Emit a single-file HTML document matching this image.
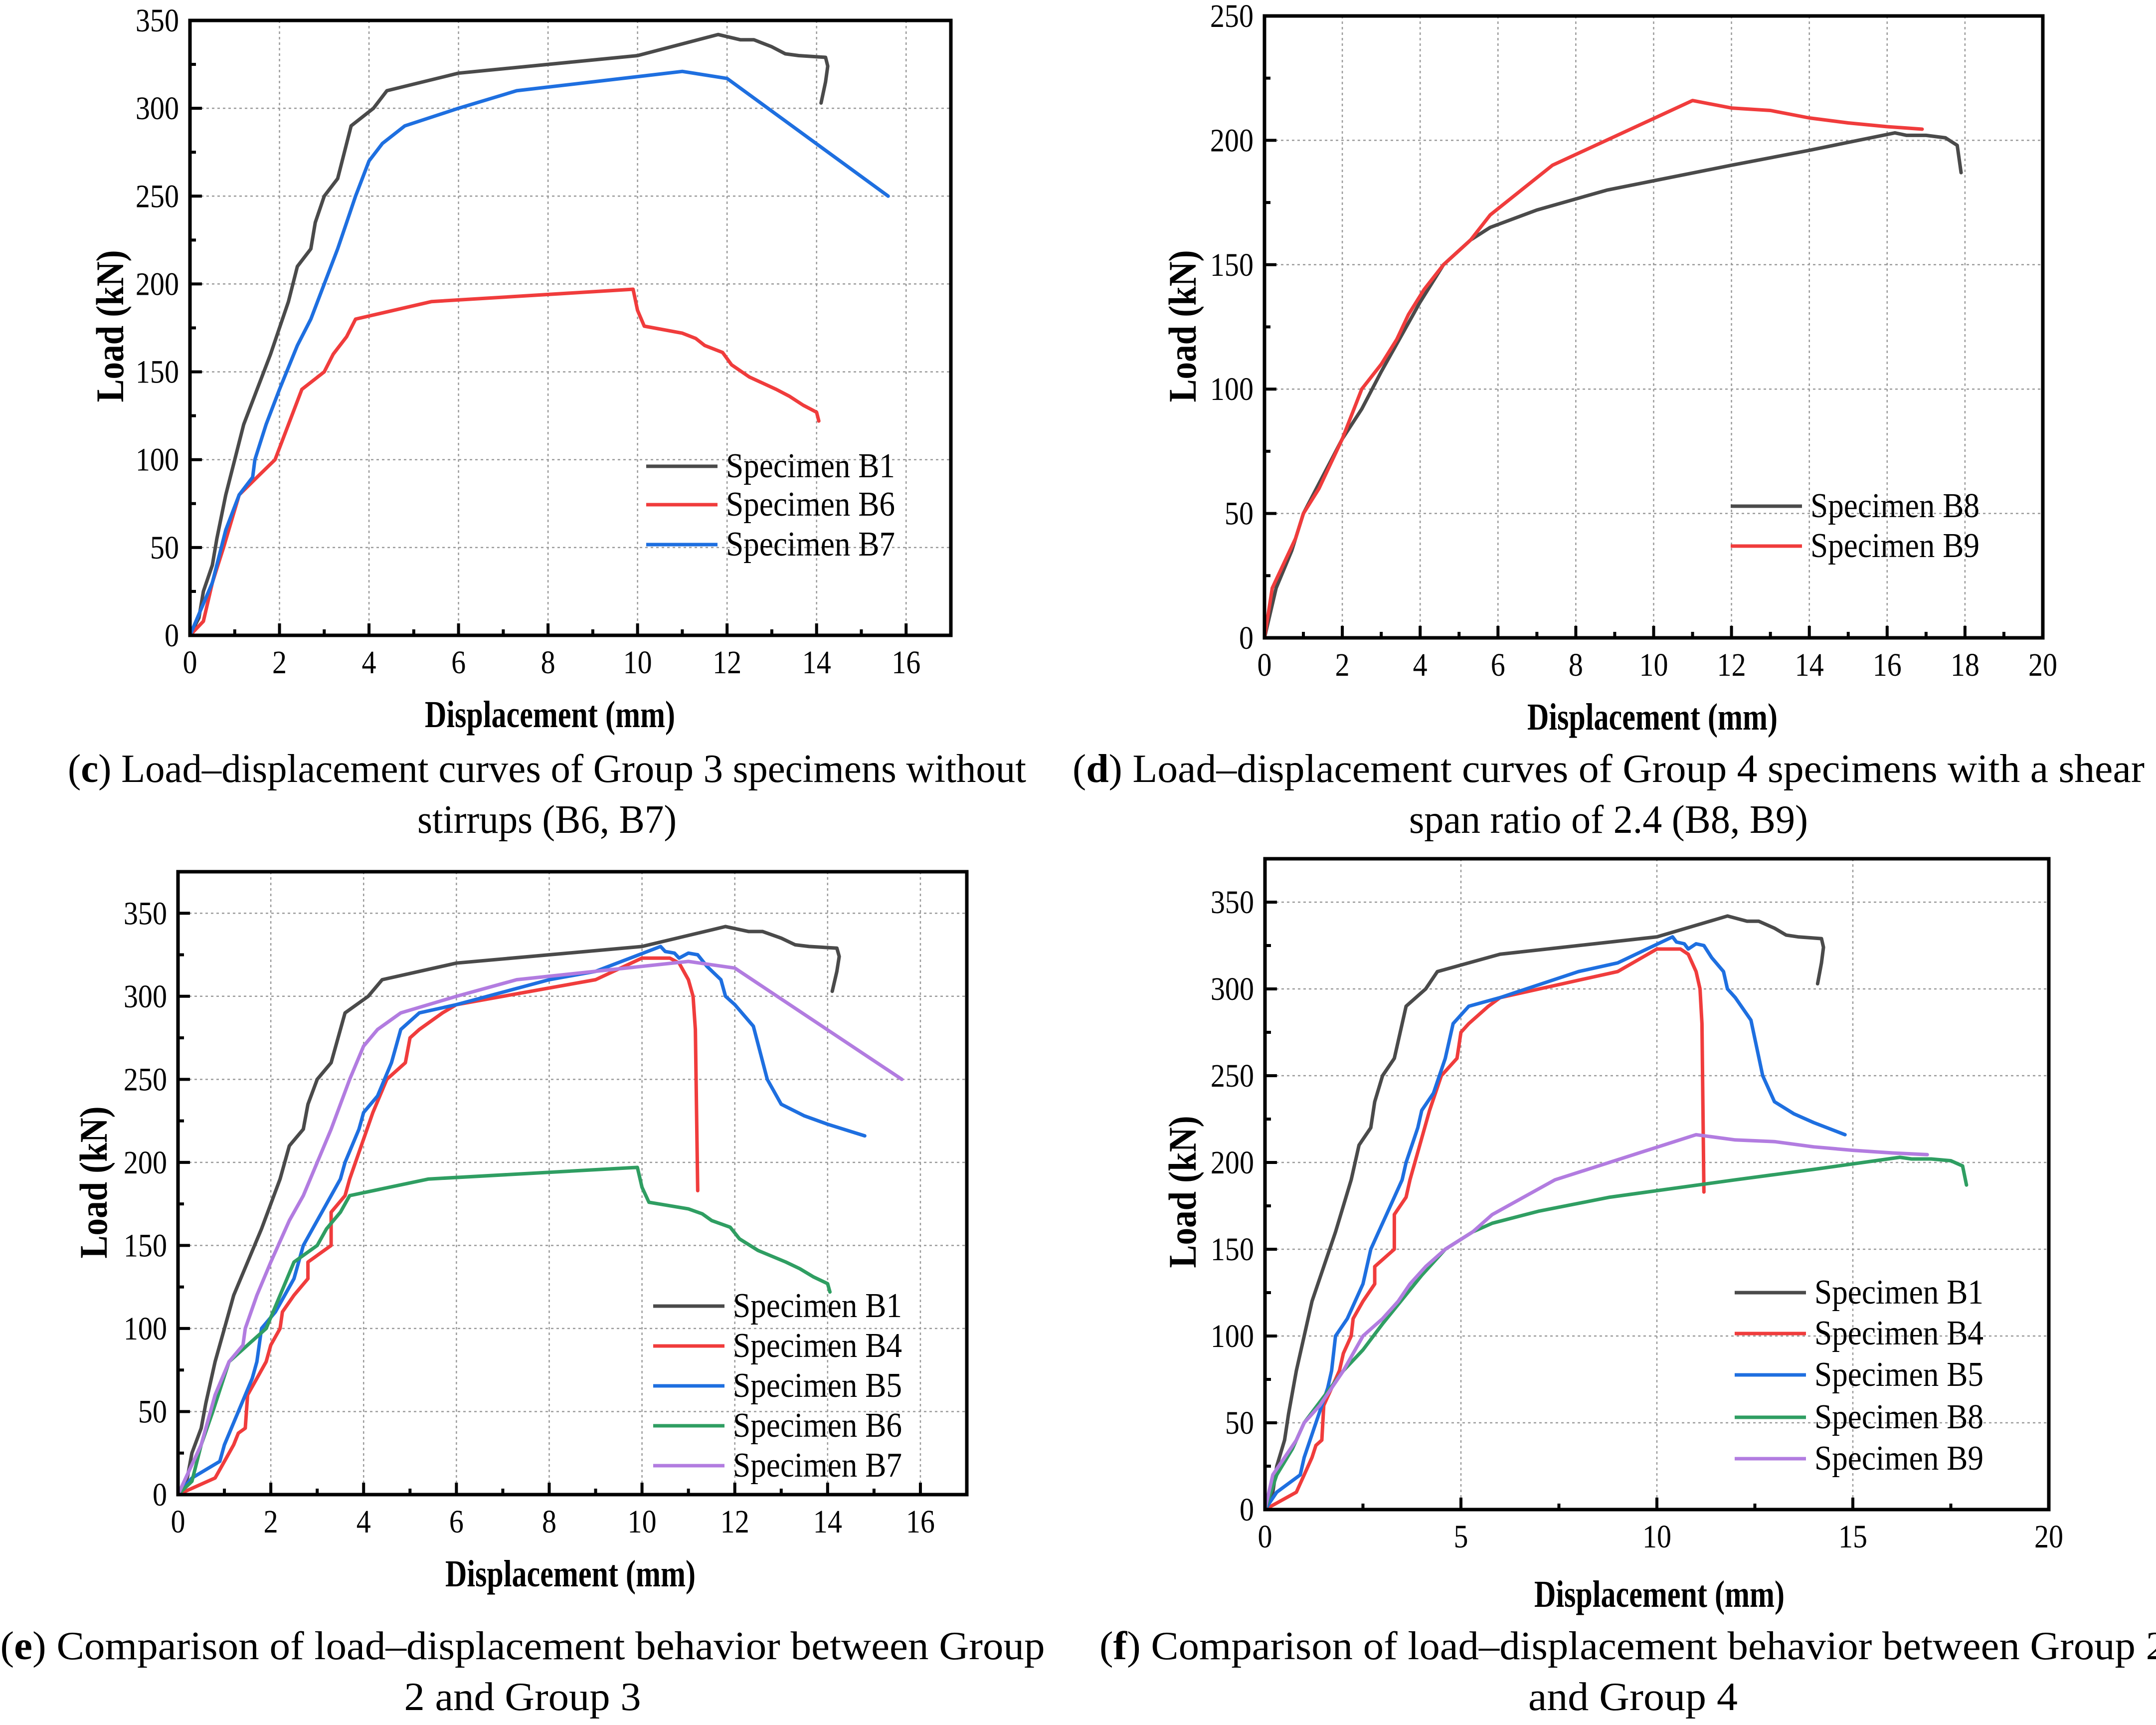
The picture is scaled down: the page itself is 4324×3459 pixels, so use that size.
<!DOCTYPE html>
<html><head><meta charset="utf-8"><style>
html,body{margin:0;padding:0;background:#fff;}
svg{display:block;}
text{font-family:"Liberation Serif",serif;fill:#000;}
</style></head><body>
<svg id="fig" width="4324" height="3459" viewBox="0 0 4324 3459" xmlns="http://www.w3.org/2000/svg"></svg>
<script>
// ---- data (displacement mm, load kN) ----
const B1_x=[0,0.2,0.3,0.5,0.6,0.8,1,1.2,1.5,1.8,2,2.2,2.4,2.7,2.8,3,3.3,3.6,4.1,4.4,6,10,11.5,11.8,12.3,12.6,13,13.3,13.6,14.2,14.25,14.2,14.1];
const B1_y=[0,10,25,40,55,80,100,120,140,160,175,190,210,220,235,250,260,290,300,310,320,330,340,342,339,339,335,331,330,329,324,315,303];
const B4_x=[0,0.8,1,1.2,1.3,1.45,1.5,1.7,1.9,2,2.2,2.25,2.5,2.8,2.8,3.3,3.3,3.6,3.7,4.2,4.5,4.9,5,5.2,5.7,6,9,10,10.6,10.8,11,11.1,11.15,11.2];
const B4_y=[0,10,20,30,37,40,60,70,80,90,100,110,120,130,140,150,170,180,190,230,250,260,275,280,290,295,310,323,323,320,310,300,280,183];
const B5_x=[0,0.3,0.9,1,1.3,1.6,1.7,1.8,2.1,2.5,2.7,2.9,3.1,3.3,3.5,3.6,3.9,4,4.3,4.6,4.8,5.2,6,8,9,10.4,10.5,10.7,10.8,11,11.2,11.4,11.7,11.8,12,12.4,12.7,13,13.5,14,14.8];
const B5_y=[0,10,20,30,50,70,80,100,110,130,150,160,170,180,190,200,220,230,240,260,280,290,295,310,315,330,327,326,323,326,325,318,310,300,295,282,250,235,228,223,216];
const B6_x=[0,0.3,0.5,0.75,1.1,1.5,1.9,2.2,2.5,3,3.2,3.5,3.7,5.4,9.9,10,10.15,11,11.3,11.5,11.9,12.1,12.5,13.1,13.4,13.7,14,14.05];
const B6_y=[0,8,30,50,80,90,100,120,140,150,160,170,180,190,197,185,176,172,169,165,161,154,147,140,136,131,127,122];
const B7_x=[0,0.5,0.8,1.1,1.4,1.45,1.7,2,2.4,2.7,3,3.3,3.5,3.7,4,4.3,4.8,6,7.3,11,12,15.6];
const B7_y=[0,30,60,80,90,100,120,140,165,180,200,220,235,250,270,280,290,300,310,321,317,250];
const B8_x=[0,0.3,0.7,1,1.5,2,2.5,3,4,4.6,5.3,5.8,7,8.8,12,14,16.2,16.5,17,17.5,17.8,17.9];
const B8_y=[0,20,35,50,65,80,92,107,135,150,160,165,172,180,190,196,203,202,202,201,198,187];
const B9_x=[0,0.2,0.5,0.8,1,1.4,1.7,2,2.5,3,3.4,3.7,4.1,4.6,5.3,5.8,7.4,11,12,13,14,15,16,16.9];
const B9_y=[0,20,30,40,50,60,70,80,100,110,120,130,140,150,160,170,190,216,213,212,209,207,205.5,204.5];
const ticksX17=[0,2,4,6,8,10,12,14,16];
const ticksX20=[0,2,4,6,8,10,12,14,16,18,20];
const ticksX20b=[0,5,10,15,20];
const ticksY350=[0,50,100,150,200,250,300,350];
const ticksY250=[0,50,100,150,200,250];

const C={B1:'#4a4a4a',B4:'#f03c3c',B5:'#1e6fe0',B6r:'#f03c3c',B6g:'#2f9e62',B7b:'#1e6fe0',B7p:'#b27ce0',B8:'#4a4a4a',B8g:'#2f9e62',B9r:'#f03c3c',B9p:'#b27ce0'};
const NS='http://www.w3.org/2000/svg';
const svg=document.getElementById('fig');
function mk(tag,attrs,parent){const e=document.createElementNS(NS,tag);for(const k in attrs)e.setAttribute(k,attrs[k]);(parent||svg).appendChild(e);return e;}

function chart(o){
  const g=mk('g',{});
  
  
  const sx=v=>o.L+(v-o.xmin)/(o.xmax-o.xmin)*(o.R-o.L);
  const sy=v=>o.B-(v-0)/(o.ymax)*(o.B-o.T);
  o.xt.forEach(v=>{if(v>0&&v<o.xmax){const l=mk('line',{x1:sx(v),x2:sx(v),y1:o.T,y2:o.B,stroke:'#9a9a9a','stroke-width':2.5,'stroke-dasharray':'5,6'},g);}});
  o.yt.forEach(v=>{if(v>0&&v<o.ymax){const l=mk('line',{x1:o.L,x2:o.R,y1:sy(v),y2:sy(v),stroke:'#9a9a9a','stroke-width':2.5,'stroke-dasharray':'5,6'},g);}});
  o.series.forEach(s=>{
    const pts=s.x.map((v,i)=>sx(v).toFixed(1)+','+sy(s.y[i]).toFixed(1)).join(' ');
    const p=mk('polyline',{points:pts,fill:'none',stroke:s.c,'stroke-width':7,'stroke-linejoin':'round','stroke-linecap':'round'},g);
    
    
  });
  for(let v=o.xmin;v<=o.xmax+1e-9;v+=o.xminor){const maj=o.xt.some(t=>Math.abs(t-v)<1e-6);const t=mk('line',{x1:sx(v),x2:sx(v),y1:o.B,y2:o.B-(maj?24:12),stroke:'#000','stroke-width':6},g);}
  for(let v=0;v<=o.ymax+1e-9;v+=25){const maj=o.yt.includes(v);const t=mk('line',{x1:o.L,x2:o.L+(maj?24:12),y1:sy(v),y2:sy(v),stroke:'#000','stroke-width':6},g);}
  const f=mk('rect',{x:o.L,y:o.T,width:o.R-o.L,height:o.B-o.T,fill:'none',stroke:'#000','stroke-width':7},g);
  
  o.xt.forEach(v=>{const t=mk('text',{x:sx(v),y:o.B+76,'font-size':66,'text-anchor':'middle',transform:`translate(${sx(v)},0) scale(0.88,1) translate(${-sx(v)},0)`},g);t.textContent=v;});
  o.yt.forEach(v=>{const x=o.L-22;const t=mk('text',{x:x,y:sy(v)+22,'font-size':66,'text-anchor':'end',transform:`translate(${x},0) scale(0.88,1) translate(${-x},0)`},g);t.textContent=v;});
  const xt=mk('text',{x:o.xtx,y:o.xty,'font-size':76,'font-weight':'bold','text-anchor':'middle',textLength:502,lengthAdjust:'spacingAndGlyphs'},g);
  xt.textContent='Displacement (mm)';
  const yt=mk('text',{x:0,y:0,'font-size':78,'font-weight':'bold','text-anchor':'middle',textLength:305,lengthAdjust:'spacingAndGlyphs',transform:`translate(${o.ytx},${o.yty}) rotate(-90)`},g);
  yt.textContent='Load (kN)';
  o.series.forEach((s,i)=>{
    const y=o.legY[i];
    const l=mk('line',{x1:o.legX,x2:o.legX+143,y1:y,y2:y,stroke:s.c,'stroke-width':7},g);
    
    const t=mk('text',{x:o.legX+160,y:y+22,'font-size':70,textLength:339,lengthAdjust:'spacingAndGlyphs'},g);
    t.textContent='Specimen '+s.n;
  });
  o.cap.forEach((c,i)=>{
    const t=mk('text',{x:o.capX,y:o.capY[i],'font-size':80,'text-anchor':'middle',textLength:c.w,lengthAdjust:'spacingAndGlyphs'},g);
    const b=document.createElementNS(NS,'tspan');
    if(c.b){t.appendChild(document.createTextNode('('));b.setAttribute('font-weight','bold');b.textContent=c.b;t.appendChild(b);t.appendChild(document.createTextNode(')'+c.t));}
    else t.textContent=c.t;
    
  });
}

chart({name:'chart-c',L:381,R:1907,T:41,B:1274,xmin:0,xmax:17,ymax:350,xt:ticksX17,yt:ticksY350,xminor:1,
  series:[{n:'B1',x:B1_x,y:B1_y,c:C.B1},{n:'B6',x:B6_x,y:B6_y,c:C.B6r},{n:'B7',x:B7_x,y:B7_y,c:C.B7b}],
  xtx:1103,xty:1458,ytx:247,yty:654,legX:1296,legY:[935,1012,1092],
  capX:1097,capY:[1568,1670],cap:[{b:'c',t:' Load–displacement curves of Group 3 specimens without',w:1922},{t:'stirrups (B6, B7)',w:520}]});
chart({name:'chart-d',L:2536,R:4097,T:32,B:1279,xmin:0,xmax:20,ymax:250,xt:ticksX20,yt:ticksY250,xminor:1,
  series:[{n:'B8',x:B8_x,y:B8_y,c:C.B8},{n:'B9',x:B9_x,y:B9_y,c:C.B9r}],
  xtx:3314,xty:1463,ytx:2398,yty:654,legX:3471,legY:[1015,1095],
  capX:3226,capY:[1568,1670],cap:[{b:'d',t:' Load–displacement curves of Group 4 specimens with a shear',w:2150},{t:'span ratio of 2.4 (B8, B9)',w:800}]});
chart({name:'chart-e',L:357,R:1939,T:1748,B:2997,xmin:0,xmax:17,ymax:375,xt:ticksX17,yt:ticksY350,xminor:1,
  series:[{n:'B1',x:B1_x,y:B1_y,c:C.B1},{n:'B4',x:B4_x,y:B4_y,c:C.B4},{n:'B5',x:B5_x,y:B5_y,c:C.B5},{n:'B6',x:B6_x,y:B6_y,c:C.B6g},{n:'B7',x:B7_x,y:B7_y,c:C.B7p}],
  xtx:1144,xty:3181,ytx:214,yty:2371,legX:1310,legY:[2619,2699,2779,2859,2939],
  capX:1048,capY:[3327,3429],cap:[{b:'e',t:' Comparison of load–displacement behavior between Group',w:2095},{t:'2 and Group 3',w:475}]});
chart({name:'chart-f',L:2537,R:4109,T:1722,B:3027,xmin:0,xmax:20,ymax:375,xt:ticksX20b,yt:ticksY350,xminor:2.5,
  series:[{n:'B1',x:B1_x,y:B1_y,c:C.B1},{n:'B4',x:B4_x,y:B4_y,c:C.B4},{n:'B5',x:B5_x,y:B5_y,c:C.B5},{n:'B8',x:B8_x,y:B8_y,c:C.B8g},{n:'B9',x:B9_x,y:B9_y,c:C.B9p}],
  xtx:3328,xty:3222,ytx:2398,yty:2390,legX:3479,legY:[2592,2674,2757,2842,2925],
  capX:3275,capY:[3327,3429],cap:[{b:'f',t:' Comparison of load–displacement behavior between Group 2',w:2140},{t:'and Group 4',w:420}]});
</script>
</body></html>
